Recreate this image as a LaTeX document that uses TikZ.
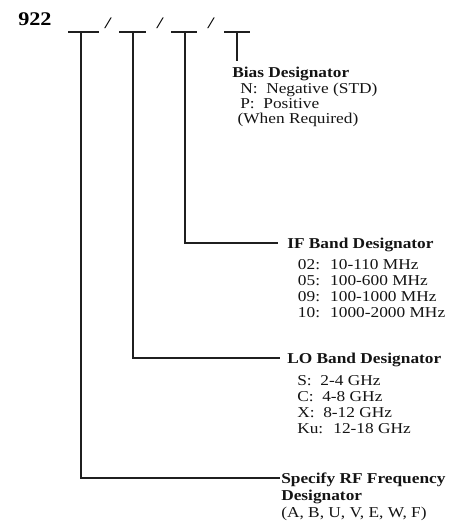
\documentclass[tikz,border=0pt]{standalone}
\usepackage{fontspec}
\setmainfont{Liberation Serif}[FakeStretch=1.15]
\begin{document}
\begin{tikzpicture}[x=0.75pt,y=-0.75pt,
  wire/.style={draw=black!88, line width=1.5pt},
  blk/.style={anchor=north west, inner sep=0pt, align=left, text=black!92,
    font=\fontsize{11.3}{12}\selectfont},
  slash/.style={inner sep=0pt, font=\bfseries\itshape\fontsize{12}{14}\selectfont}]
\useasboundingbox (0,0) rectangle (461,529);
% title
\node[anchor=base west, inner sep=0pt, font=\bfseries\fontsize{14.5}{16}\selectfont] (t) at (18,25) {922};
% blanks
\coordinate (b1l) at (68,32); \coordinate (b1r) at (99,32);
\coordinate (b2l) at (119,32); \coordinate (b2r) at (146,32);
\coordinate (b3l) at (171,32); \coordinate (b3r) at (197,32);
\coordinate (b4l) at (224,32); \coordinate (b4r) at (250,32);
\draw[wire] (b1l) -- (b1r);
\draw[wire] (b2l) -- (b2r);
\draw[wire] (b3l) -- (b3r);
\draw[wire] (b4l) -- (b4r);
\node[slash] (s1) at (108,23) {/};
\node[slash] (s2) at (160,23) {/};
\node[slash] (s3) at (211,23) {/};
% blocks
\node[blk, font=\fontsize{11.3}{11.2}\selectfont] (bias) at (232,67) {\textbf{Bias Designator}\\[0.8pt]
  \hspace{6pt}N:~ Negative (STD)\\
  \hspace{6pt}P:~ Positive\\
  \hspace{4pt}(When Required)};
\node[blk] (if) at (287,238) {\textbf{IF Band Designator}\\[3.5pt]
  \hspace{8pt}02:~ 10-110 MHz\\
  \hspace{8pt}05:~ 100-600 MHz\\
  \hspace{8pt}09:~ 100-1000 MHz\\
  \hspace{8pt}10:~ 1000-2000 MHz};
\node[blk] (lo) at (287,353) {\textbf{LO Band Designator}\\[4pt]
  \hspace{7.5pt}S:~ 2-4 GHz\\
  \hspace{7.5pt}C:~ 4-8 GHz\\
  \hspace{7.5pt}X:~ 8-12 GHz\\
  \hspace{7.5pt}Ku:~ 12-18 GHz};
\node[blk, font=\fontsize{11.3}{12.6}\selectfont] (rf) at (281,473) {\textbf{Specify RF Frequency}\\
  \textbf{Designator}\\
  (A, B, U, V, E, W, F)};
% connectors
\coordinate (e4) at (237,61);
\coordinate (c3) at (185,243); \coordinate (e3) at (278,243);
\coordinate (c2) at (133,358); \coordinate (e2) at (280,358);
\coordinate (c1) at (81,478);  \coordinate (e1) at (280,478);
\draw[wire] (237,32) -- (e4);
\draw[wire] (185,32) -- (c3) -- (e3);
\draw[wire] (133,32) -- (c2) -- (e2);
\draw[wire] (81,32) -- (c1) -- (e1);
\end{tikzpicture}
\end{document}
